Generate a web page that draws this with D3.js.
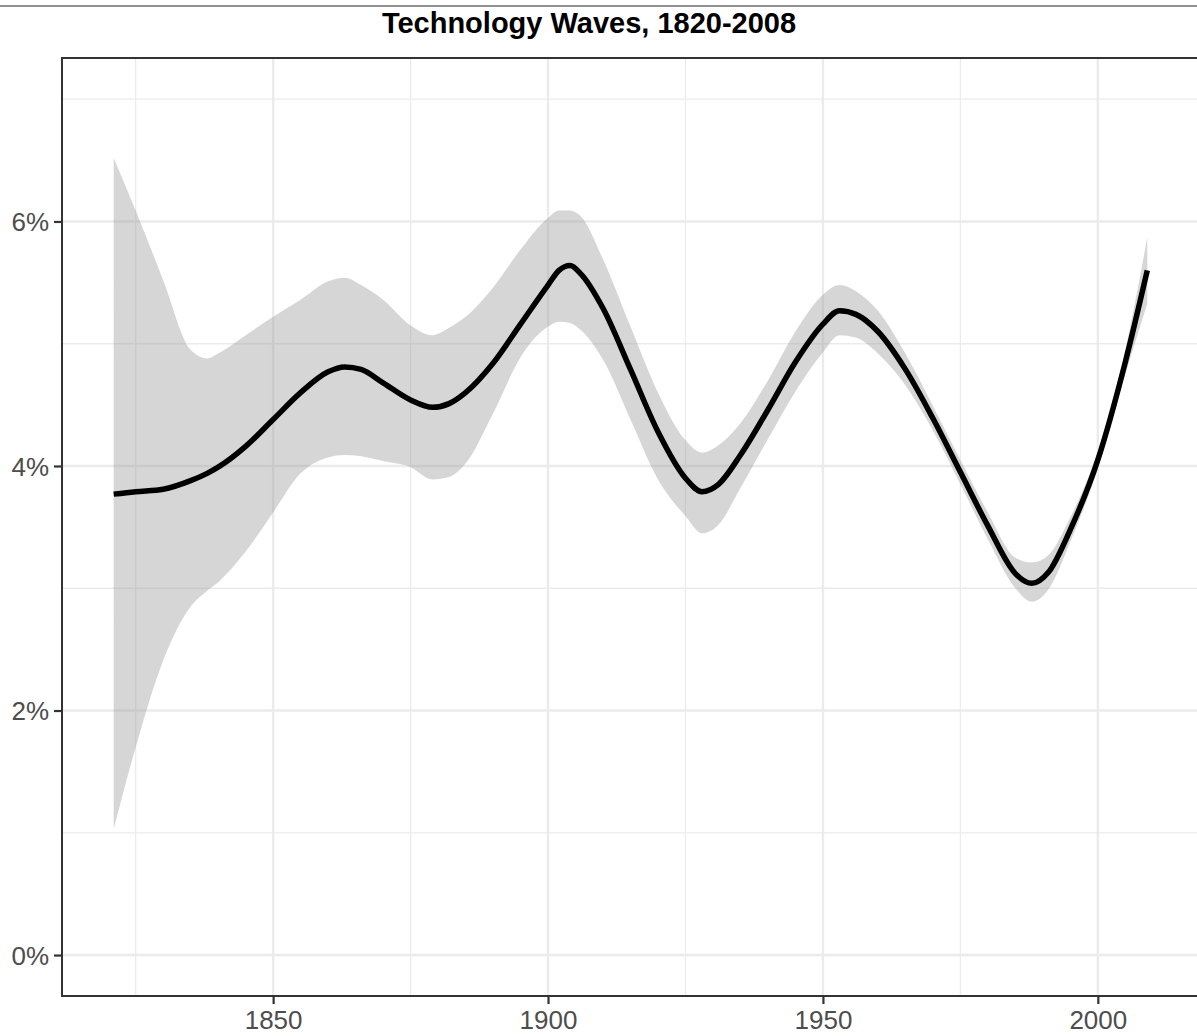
<!DOCTYPE html>
<html>
<head>
<meta charset="utf-8">
<script src="https://cdn.jsdelivr.net/npm/d3@7"></script>
<style>
  body { margin: 0; background: #fff; }
  svg text { font-family: "Liberation Sans", Arial, Helvetica, sans-serif; }
</style>
</head>
<body>
<svg id="chart" width="1197" height="1036"></svg>
<script>
// smoothed growth rate (percent) with confidence band
var years = [1821,1825,1830,1835,1838,1840,1845,1850,1855,1860,1863,1866,1870,1875,1879,1882,1885,1890,1895,1900,1902,1904,1906,1910,1915,1920,1925,1928,1931,1935,1940,1945,1950,1953,1956,1960,1965,1970,1975,1980,1985,1988,1991,1995,2000,2005,2009];
var fitted = [3.77,3.79,3.81,3.88,3.94,3.99,4.16,4.38,4.60,4.77,4.81,4.79,4.68,4.54,4.48,4.51,4.60,4.84,5.16,5.48,5.60,5.64,5.57,5.29,4.79,4.28,3.90,3.79,3.85,4.09,4.46,4.85,5.16,5.27,5.24,5.10,4.79,4.39,3.95,3.51,3.12,3.04,3.13,3.48,4.05,4.85,5.60];
var upper = [6.52,6.09,5.52,4.95,4.88,4.92,5.07,5.22,5.36,5.51,5.54,5.48,5.36,5.15,5.07,5.13,5.22,5.46,5.77,6.03,6.09,6.09,6.04,5.69,5.14,4.60,4.21,4.11,4.17,4.35,4.70,5.10,5.40,5.48,5.43,5.27,4.92,4.49,4.05,3.62,3.25,3.21,3.27,3.58,4.12,4.95,5.87];
var lower = [1.03,1.70,2.41,2.85,2.98,3.05,3.30,3.62,3.94,4.07,4.09,4.08,4.04,3.99,3.89,3.91,4.02,4.43,4.89,5.14,5.18,5.17,5.11,4.87,4.38,3.89,3.59,3.45,3.52,3.82,4.22,4.61,4.93,5.07,5.05,4.92,4.66,4.29,3.85,3.40,3.00,2.89,2.99,3.38,3.98,4.75,5.33];

var xMajor = [1850, 1900, 1950, 2000];
var xMinor = [1825, 1875, 1925, 1975];
var yMajor = [0, 2, 4, 6];
var yMinor = [1, 3, 5, 7];
var title = "Technology Waves, 1820-2008";

var panel = {left: 62, top: 58, right: 1199, bottom: 996};

var svg = d3.select("#chart");

var x = d3.scaleLinear()
    .domain([1811.6, 2018.4])
    .range([panel.left, panel.right]);

var y = d3.scaleLinear()
    .domain([-0.335, 7.337])
    .range([panel.bottom, panel.top]);

var rows = years.map(function(d, i){
    return {year: d, fit: fitted[i], hi: upper[i], lo: lower[i]};
});

// thin rule along the very top
svg.append("line")
    .attr("x1", 0).attr("x2", 1197)
    .attr("y1", 6).attr("y2", 6)
    .attr("stroke", "#6b6b6b")
    .attr("stroke-width", 1.6);

svg.append("text")
    .attr("x", 589)
    .attr("y", 33)
    .attr("text-anchor", "middle")
    .attr("font-size", 29)
    .attr("font-weight", "bold")
    .attr("fill", "#000")
    .text(title);

// grid
var grid = svg.append("g");
grid.selectAll(".minx").data(xMinor).enter().append("line")
    .attr("x1", function(d){ return x(d); })
    .attr("x2", function(d){ return x(d); })
    .attr("y1", panel.top).attr("y2", panel.bottom)
    .attr("stroke", "#ebebeb").attr("stroke-width", 1.3);
grid.selectAll(".miny").data(yMinor).enter().append("line")
    .attr("y1", function(d){ return y(d); })
    .attr("y2", function(d){ return y(d); })
    .attr("x1", panel.left).attr("x2", panel.right)
    .attr("stroke", "#ebebeb").attr("stroke-width", 1.3);
grid.selectAll(".majx").data(xMajor).enter().append("line")
    .attr("x1", function(d){ return x(d); })
    .attr("x2", function(d){ return x(d); })
    .attr("y1", panel.top).attr("y2", panel.bottom)
    .attr("stroke", "#ebebeb").attr("stroke-width", 2.4);
grid.selectAll(".majy").data(yMajor).enter().append("line")
    .attr("y1", function(d){ return y(d); })
    .attr("y2", function(d){ return y(d); })
    .attr("x1", panel.left).attr("x2", panel.right)
    .attr("stroke", "#ebebeb").attr("stroke-width", 2.4);

// confidence ribbon
var band = d3.area()
    .x(function(d){ return x(d.year); })
    .y0(function(d){ return y(d.lo); })
    .y1(function(d){ return y(d.hi); })
    .curve(d3.curveMonotoneX);

svg.append("path")
    .datum(rows)
    .attr("d", band)
    .attr("fill", "#999999")
    .attr("fill-opacity", 0.4);

var line = d3.line()
    .x(function(d){ return x(d.year); })
    .y(function(d){ return y(d.fit); })
    .curve(d3.curveMonotoneX);

svg.append("path")
    .datum(rows)
    .attr("d", line)
    .attr("fill", "none")
    .attr("stroke", "#000")
    .attr("stroke-width", 5.5)
    .attr("stroke-linejoin", "round");

// panel border
svg.append("rect")
    .attr("x", panel.left).attr("y", panel.top)
    .attr("width", panel.right - panel.left)
    .attr("height", panel.bottom - panel.top)
    .attr("fill", "none")
    .attr("stroke", "#333333")
    .attr("stroke-width", 2);

// axes
var xAxis = d3.axisBottom(x)
    .tickValues(xMajor)
    .tickSize(7)
    .tickPadding(7)
    .tickFormat(d3.format("d"));

var yAxis = d3.axisLeft(y)
    .tickValues(yMajor)
    .tickSize(7)
    .tickPadding(5)
    .tickFormat(function(d){ return d + "%"; });

var gx = svg.append("g")
    .attr("transform", "translate(0," + (panel.bottom + 1) + ")")
    .call(xAxis);
var gy = svg.append("g")
    .attr("transform", "translate(" + (panel.left - 1) + ",0)")
    .call(yAxis);

[gx, gy].forEach(function(g){
    g.select(".domain").remove();
    g.selectAll(".tick line").attr("stroke", "#333333").attr("stroke-width", 2.2);
    g.selectAll(".tick text")
        .attr("fill", "#4d4d4d")
        .attr("font-size", 26)
        .attr("font-family", "'Liberation Sans', Arial, Helvetica, sans-serif");
});
gy.selectAll(".tick text").attr("dy", "0.36em");
</script>
</body>
</html>
